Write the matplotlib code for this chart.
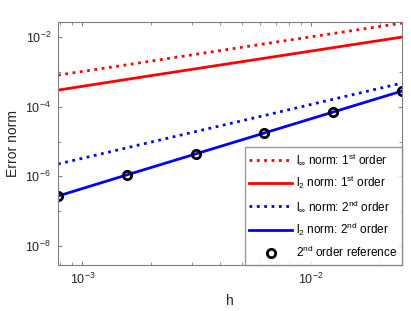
import numpy as np
import matplotlib
matplotlib.use("Agg")
import matplotlib.pyplot as plt
from matplotlib.ticker import LogLocator, NullFormatter

OUT_PNG = "out.png"

# grid spacings and error norms
h = [7.8125e-4, 1.5625e-3, 3.125e-3, 6.25e-3, 1.25e-2, 2.5e-2]
linf_1st = [8.1e-4, 1.6e-3, 3.2e-3, 6.4e-3, 1.27e-2, 2.52e-2]
l2_1st = [3.0e-4, 6.1e-4, 1.23e-3, 2.47e-3, 4.97e-3, 1.0e-2]
linf_2nd = [2.26e-6, 6.6e-6, 1.93e-5, 5.6e-5, 1.64e-4, 4.78e-4]
l2_2nd = [2.72e-7, 1.1e-6, 4.4e-6, 1.76e-5, 7.05e-5, 2.82e-4]
ref_2nd = [2.72e-7, 1.1e-6, 4.4e-6, 1.76e-5, 7.05e-5, 2.82e-4]

plt.rcParams['font.family'] = ['Liberation Sans', 'DejaVu Sans']
plt.rcParams['mathtext.fontset'] = 'custom'
plt.rcParams['mathtext.rm'] = 'Liberation Sans'
plt.rcParams['mathtext.it'] = 'Liberation Sans'

fig = plt.figure(figsize=(4.11, 3.11), dpi=100)
ax = fig.add_axes([0.1411, 0.148, 0.8369, 0.781])

ax.loglog(h, linf_1st, ':', color='red', lw=2, label=r'l$_\infty$ norm: 1$^{\rm st}$ order')
ax.loglog(h, l2_1st, '-', color='red', lw=2, label=r'l$_2$ norm: 1$^{\rm st}$ order')
ax.loglog(h, linf_2nd, ':', color='blue', lw=2, label=r'l$_\infty$ norm: 2$^{\rm nd}$ order')
ax.loglog(h, l2_2nd, '-', color='blue', lw=2, label=r'l$_2$ norm: 2$^{\rm nd}$ order')
ax.loglog(h, ref_2nd, 'o', color='black', mfc='none', mew=2, ms=6,
          label=r'2$^{\rm nd}$ order reference')

ax.set_xlim(h[0], h[-1])
ax.set_ylim(2.85e-9, 2.7e-2)

ax.yaxis.set_major_locator(LogLocator(base=100))
ax.yaxis.set_minor_locator(LogLocator(base=10, subs=[1.0]))
ax.yaxis.set_minor_formatter(NullFormatter())
ax.xaxis.set_minor_formatter(NullFormatter())

gray = '#808080'
for sp in ax.spines.values():
    sp.set_color(gray)
ax.tick_params(which='both', direction='in', top=True, right=True, colors=gray,
               labelcolor='#262626', labelsize=9)
ax.tick_params(which='major', length=3, pad=5)
ax.tick_params(which='minor', length=2)

ax.set_xlabel('h', fontsize=10, color='#262626', labelpad=5)
ax.set_ylabel('Error norm', fontsize=10, color='#262626', labelpad=4)

leg = ax.legend(loc='lower right', fontsize=8.5, frameon=True, fancybox=False,
                borderaxespad=0.0, handlelength=3.6, labelspacing=0.6,
                borderpad=0.4, handletextpad=0.35)
leg.get_frame().set_edgecolor(gray)
leg.get_frame().set_linewidth(1)

fig.savefig(OUT_PNG, dpi=100)
